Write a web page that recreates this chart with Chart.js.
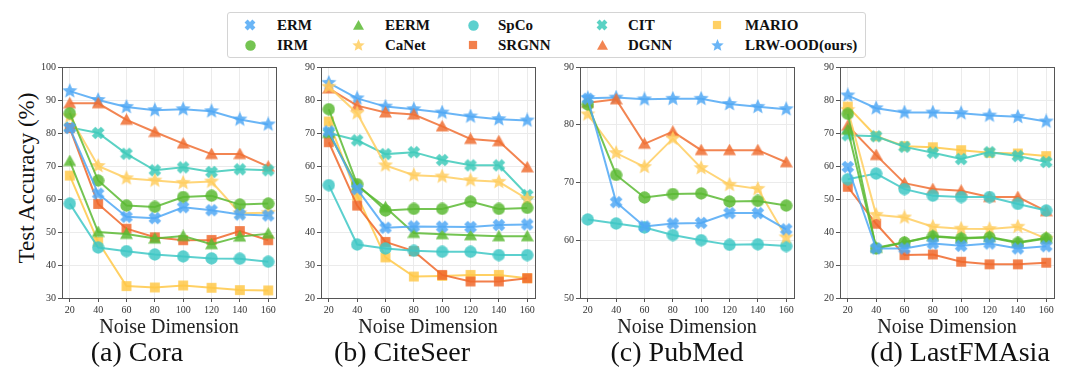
<!DOCTYPE html>
<html>
<head>
<meta charset="utf-8">
<script src="https://cdn.jsdelivr.net/npm/chart.js@4.4.1/dist/chart.umd.min.js"></script>
<style>
  body { margin:0; background:#fff; width:1079px; height:380px; position:relative; overflow:hidden; font-family:"Liberation Serif"; color:#111; }
  canvas.panel { position:absolute; }
  .cap { position:absolute; top:336px; font-family:"Liberation Serif"; font-size:28px; transform:translateX(-50%); white-space:nowrap; }
  #ylab { position:absolute; left:27px; top:178px; font-family:"Liberation Serif"; font-size:23px; transform:translate(-50%,-50%) rotate(-90deg); white-space:nowrap; }
  #legend { position:absolute; left:227px; top:12px; width:637px; height:44px; border:1px solid #d4d4d4; border-radius:3px; }
  .item { position:absolute; font-family:"Liberation Serif"; font-weight:bold; font-size:15px; white-space:nowrap; line-height:18px; }
</style>
</head>
<body>
<div id="legend"></div>
<div id="ylab">Test Accuracy (%)</div>
<canvas class="panel" id="ch0"></canvas>
<canvas class="panel" id="ch1"></canvas>
<canvas class="panel" id="ch2"></canvas>
<canvas class="panel" id="ch3"></canvas>
<div class="cap" style="left:137px">(a) Cora</div>
<div class="cap" style="left:402px">(b) CiteSeer</div>
<div class="cap" style="left:677px">(c) PubMed</div>
<div class="cap" style="left:960px">(d) LastFMAsia</div>
<script>
var noiseDims = [20, 40, 60, 80, 100, 120, 140, 160];
var methods = ['ERM', 'IRM', 'EERM', 'CaNet', 'SpCo', 'SRGNN', 'CIT', 'DGNN', 'MARIO', 'LRW-OOD(ours)'];
var colors = ['rgba(80,168,245,0.85)', 'rgba(92,186,52,0.85)', 'rgba(92,186,52,0.85)', 'rgba(255,206,96,0.85)',
              'rgba(64,200,198,0.85)', 'rgba(240,104,44,0.85)', 'rgba(62,202,186,0.85)', 'rgba(240,112,52,0.85)',
              'rgba(255,200,72,0.85)', 'rgba(80,168,245,0.85)'];
var shapes = ['x', 'circle', 'triangle', 'star', 'circle', 'square', 'x', 'triangle', 'square', 'star'];

// rows follow the order of methods
var cora = [
  [81.5, 61.6, 54.6, 54.2, 57.5, 56.6, 55.3, 55.0],
  [86.0, 65.6, 58.0, 57.6, 60.6, 61.0, 58.3, 58.6],
  [71.5, 50.0, 49.4, 48.0, 48.8, 46.3, 48.6, 49.5],
  [85.0, 70.0, 66.3, 65.6, 64.9, 65.3, 55.7, 55.8],
  [58.6, 45.3, 44.2, 43.2, 42.6, 42.0, 41.9, 41.0],
  [81.5, 58.5, 51.0, 48.4, 47.5, 47.6, 50.3, 47.5],
  [81.7, 80.0, 73.7, 68.7, 69.6, 68.2, 69.0, 68.7],
  [89.0, 89.0, 84.0, 80.3, 76.8, 73.6, 73.6, 69.8],
  [67.1, 47.0, 33.6, 33.2, 33.8, 33.1, 32.4, 32.3],
  [92.7, 90.0, 87.9, 86.9, 87.2, 86.6, 84.1, 82.6]
];
var citeseer = [
  [70.5, 53.0, 41.3, 41.7, 41.6, 41.5, 42.1, 42.3],
  [77.2, 54.5, 46.5, 47.0, 47.0, 49.2, 47.0, 47.3],
  [70.0, 54.0, 47.5, 39.7, 39.3, 39.0, 38.7, 38.7],
  [84.0, 76.0, 60.2, 57.2, 56.8, 55.7, 55.2, 50.0],
  [54.2, 36.2, 35.0, 34.3, 34.0, 34.0, 33.0, 33.0],
  [67.2, 48.0, 37.0, 34.2, 27.0, 25.0, 25.0, 26.0],
  [70.0, 67.8, 63.6, 64.2, 61.8, 60.2, 60.2, 51.2],
  [83.5, 78.3, 76.2, 75.6, 72.0, 68.2, 67.5, 59.6],
  [73.5, 51.0, 32.3, 26.5, 26.7, 27.0, 27.0, 26.0],
  [85.2, 80.5, 78.0, 77.2, 76.2, 75.0, 74.2, 73.8]
];
var pubmed = [
  [84.5, 66.6, 62.4, 62.9, 63.0, 64.7, 64.7, 61.9],
  [83.5, 71.3, 67.4, 68.0, 68.1, 66.7, 66.8, 66.0],
  [],
  [81.8, 75.1, 72.7, 77.6, 72.5, 69.6, 68.9, 60.5],
  [63.6, 62.9, 62.2, 60.9, 60.0, 59.2, 59.3, 59.0],
  [],
  [],
  [83.8, 84.4, 76.7, 78.8, 75.6, 75.6, 75.6, 73.5],
  [],
  [84.6, 84.7, 84.4, 84.5, 84.5, 83.6, 83.1, 82.7]
];
var lastfm = [
  [59.7, 35.0, 35.0, 36.5, 35.8, 36.5, 35.0, 35.7],
  [75.8, 35.0, 36.8, 38.6, 38.0, 38.3, 36.7, 38.0],
  [71.0, 35.2, 36.9, 38.8, 38.2, 38.5, 36.9, 38.2],
  [77.0, 45.2, 44.4, 41.6, 41.0, 40.9, 41.6, 38.0],
  [56.0, 57.7, 53.0, 51.0, 50.6, 50.6, 48.5, 46.5],
  [53.7, 42.5, 33.0, 33.2, 31.0, 30.2, 30.2, 30.7],
  [69.3, 69.0, 65.8, 64.0, 62.1, 64.2, 63.0, 61.2],
  [72.2, 63.3, 54.8, 53.0, 52.5, 50.6, 50.6, 46.3],
  [78.0, 69.0, 66.0, 65.7, 64.8, 64.0, 63.8, 63.0],
  [81.4, 77.5, 76.2, 76.2, 76.0, 75.3, 74.9, 73.5]
];
var yRanges = [[30, 100], [20, 90], [50, 90], [20, 90]];

var FONT = 'Liberation Serif';
Chart.defaults.font.family = FONT;
var plotLeft = [62, 321, 580, 840], plotW = 218;

function makeMarker(shape, color, size) {
  var c = document.createElement('canvas');
  c.width = c.height = size;
  var g = c.getContext('2d'), r = size / 2;
  g.translate(r, r);
  g.fillStyle = color;
  g.beginPath();
  if (shape === 'circle') {
    g.arc(0, 0, r * 0.95, 0, Math.PI * 2);
  } else if (shape === 'square') {
    g.rect(-r * 0.82, -r * 0.82, r * 1.64, r * 1.64);
  } else if (shape === 'triangle') {
    g.moveTo(0, -r); g.lineTo(r, r * 0.75); g.lineTo(-r, r * 0.75); g.closePath();
  } else if (shape === 'star') {
    for (var k = 0; k < 10; k++) {
      var rr = k % 2 ? r * 0.45 : r, a = -Math.PI / 2 + k * Math.PI / 5;
      g.lineTo(rr * Math.cos(a), rr * Math.sin(a));
    }
    g.closePath();
  } else {
    // filled X
    var w = r * 0.36, L = r * 0.92;
    g.rotate(Math.PI / 4);
    var p = [[-w,-L],[w,-L],[w,-w],[L,-w],[L,w],[w,w],[w,L],[-w,L],[-w,w],[-L,w],[-L,-w],[-w,-w]];
    g.moveTo(p[0][0], p[0][1]);
    for (var j = 1; j < p.length; j++) g.lineTo(p[j][0], p[j][1]);
    g.closePath();
  }
  g.fill();
  return c;
}
var plotSize = {circle: 13, square: 12, triangle: 13, star: 16, x: 14};
var legSize = {circle: 11, square: 10, triangle: 11, star: 13, x: 12};

// legend: 5 columns x 2 rows, column-major
var legMarkX = [250, 358, 473, 602, 717], legTextX = [277, 385, 498, 628, 745], legRowY = [25, 45];
var legend = document.getElementById('legend');
methods.forEach(function (m, i) {
  var col = Math.floor(i / 2), row = i % 2;
  var mk = makeMarker(shapes[i], colors[i], legSize[shapes[i]]);
  mk.style.position = 'absolute';
  mk.style.left = (legMarkX[col] - 228 - mk.width / 2) + 'px';
  mk.style.top = (legRowY[row] - 13 - mk.height / 2) + 'px';
  legend.appendChild(mk);
  var t = document.createElement('div');
  t.className = 'item';
  t.textContent = m;
  t.style.left = (legTextX[col] - 228) + 'px';
  t.style.top = (legRowY[row] - 13 - 9) + 'px';
  legend.appendChild(t);
});

var frame = {
  id: 'frame',
  afterDatasetsDraw: function (chart) {
    var a = chart.chartArea, g = chart.ctx;
    g.save();
    g.strokeStyle = '#555';
    g.lineWidth = 1;
    g.strokeRect(Math.round(a.left) + 0.5, Math.round(a.top) + 0.5, Math.round(a.right - a.left), Math.round(a.bottom - a.top));
    g.restore();
  }
};

var allData = [cora, citeseer, pubmed, lastfm];
allData.forEach(function (vals, p) {
  var cv = document.getElementById('ch' + p);
  cv.width = 30 + plotW + 2;
  cv.height = 283;
  cv.style.left = (plotLeft[p] - 30) + 'px';
  cv.style.top = '57px';

  var datasets = methods.map(function (m, i) {
    return {
      label: m,
      data: vals[i].map(function (v, j) { return {x: noiseDims[j], y: v}; }),
      borderColor: colors[i],
      backgroundColor: colors[i],
      borderWidth: 2,
      pointStyle: makeMarker(shapes[i], colors[i], plotSize[shapes[i]]),
      tension: 0,
      clip: false
    };
  });

  new Chart(cv, {
    type: 'line',
    data: {datasets: datasets},
    options: {
      responsive: false,
      animation: false,
      events: [],
      layout: {padding: {top: 10, right: 2, left: 0, bottom: 0}},
      plugins: {legend: {display: false}, tooltip: {enabled: false}},
      scales: {
        x: {
          type: 'linear', min: 14.5, max: 165.5,
          afterBuildTicks: function (s) { s.ticks = noiseDims.map(function (v) { return {value: v}; }); },
          afterFit: function (s) { s.height = 42; },
          grid: {color: '#ebebeb', tickColor: '#555', tickLength: 4},
          border: {color: '#555'},
          ticks: {font: {family: FONT, size: 10}, color: '#333', padding: 2, maxRotation: 0, autoSkip: false},
          title: {display: true, text: 'Noise Dimension', font: {family: FONT, size: 20}, color: '#222', padding: {top: 1, bottom: 0}}
        },
        y: {
          min: yRanges[p][0], max: yRanges[p][1],
          afterFit: function (s) { s.width = 30; },
          grid: {color: '#ebebeb', tickColor: '#555', tickLength: 4},
          border: {color: '#555'},
          ticks: {stepSize: 10, font: {family: FONT, size: 10}, color: '#333', padding: 2}
        }
      }
    },
    plugins: [frame]
  });
});
</script>
</body>
</html>
